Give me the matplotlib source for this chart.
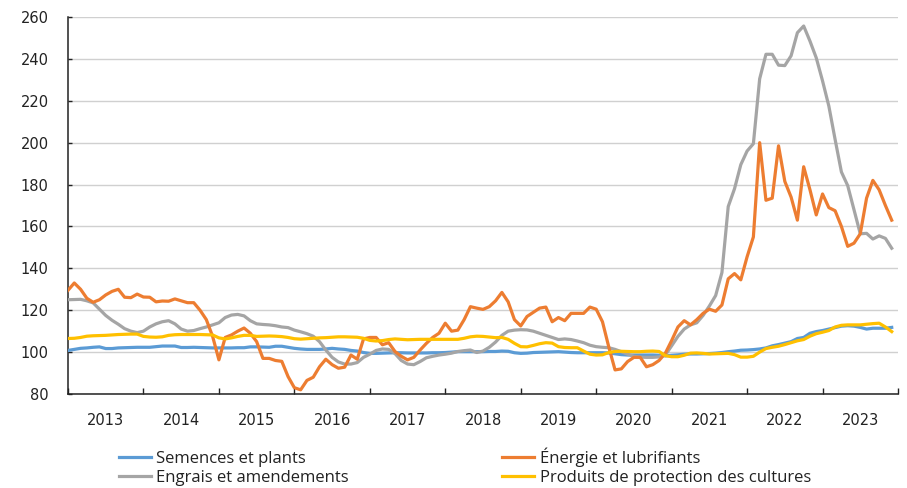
import numpy as np
import matplotlib
matplotlib.use("Agg")
import matplotlib.pyplot as plt
from matplotlib.lines import Line2D

plt.rcParams['font.family'] = ['DejaVu Sans']

years = ['2013', '2014', '2015', '2016', '2017', '2018', '2019', '2020', '2021', '2022', '2023']

# Monthly indices, Jan 2013 .. Dec 2023 (one row per year)
semences = [
    100.8, 101.3, 101.8, 102.0, 102.3, 102.5, 101.7, 101.7, 102.0, 102.1, 102.2, 102.3,
    102.3, 102.3, 102.6, 102.9, 102.9, 102.9, 102.2, 102.2, 102.3, 102.2, 102.1, 102.0,
    102.0, 102.0, 102.0, 102.1, 102.1, 102.5, 102.5, 102.4, 102.3, 102.8, 102.8, 102.3,
    101.8, 101.5, 101.3, 101.3, 101.3, 101.5, 101.8, 101.5, 101.3, 100.8, 100.5, 99.8,
    99.4, 99.4, 99.5, 99.6, 99.7, 99.7, 99.6, 99.6, 99.6, 99.6, 99.7, 99.7,
    99.8, 100.0, 100.2, 100.2, 100.2, 100.2, 100.2, 100.3, 100.3, 100.5, 100.4, 99.7,
    99.4, 99.5, 99.8, 99.9, 100.0, 100.1, 100.2, 100.0, 99.8, 99.7, 99.7, 99.7,
    99.7, 99.7, 99.6, 99.2, 98.8, 98.6, 98.6, 98.6, 98.6, 98.6, 98.5, 98.2,
    98.5, 98.7, 99.0, 99.1, 99.1, 99.2, 99.3, 99.5, 99.8, 100.2, 100.5, 100.9,
    101.0, 101.2, 101.5, 102.0, 103.0, 103.6, 104.3, 105.0, 106.5, 107.0, 109.0, 109.8,
    110.3, 111.0, 111.7, 112.4, 112.6, 112.4, 111.8, 111.0, 111.4, 111.4, 111.4, 111.8,
]

energie = [
    129.5, 133.0, 130.0, 125.7, 123.8, 125.0, 127.3, 129.0, 130.0, 126.2, 126.0, 127.7,
    126.3, 126.2, 124.0, 124.4, 124.3, 125.4, 124.5, 123.6, 123.6, 120.0, 115.5, 107.5,
    96.3, 107.0, 108.2, 110.0, 111.5, 109.0, 105.0, 97.0, 97.0, 96.0, 95.6, 88.3,
    83.0, 82.0, 86.5, 88.0, 93.0, 96.6, 94.0, 92.3, 92.8, 98.6, 96.6, 106.3,
    107.0, 107.0, 103.5, 104.5, 100.3, 98.0, 96.3, 97.5, 101.0, 104.2, 107.0, 109.0,
    113.8, 110.0, 110.5, 115.5, 121.7, 121.0, 120.4, 121.7, 124.5, 128.5, 124.0, 115.5,
    112.5, 117.0, 119.0, 121.0, 121.5, 114.5, 116.5, 115.0, 118.5, 118.5, 118.5, 121.5,
    120.5, 114.5, 102.5, 91.5, 92.0, 95.5, 97.5, 97.5, 93.0, 94.0, 96.0, 99.5,
    105.5, 112.0, 115.0, 113.0, 115.5, 118.5, 120.5, 119.5, 122.5, 135.0, 137.5, 134.5,
    145.5, 155.0, 200.0, 172.5, 173.5, 198.5, 181.5, 174.0, 163.0, 188.5, 177.5, 165.5,
    175.5, 169.0, 167.5, 160.0, 150.5, 152.0, 156.5, 173.5, 182.0, 177.5, 170.0, 163.0,
]

engrais = [
    125.0, 125.1, 125.2, 124.5, 123.5, 120.5, 117.5, 115.2, 113.3, 111.2, 110.0, 109.3,
    110.0, 112.0, 113.5, 114.5, 115.0, 113.5, 111.0, 110.0, 110.3, 111.2, 112.0, 113.0,
    114.0, 116.5, 117.7, 118.0, 117.3, 115.0, 113.5, 113.2, 113.0, 112.6, 112.0, 111.7,
    110.5, 109.7, 108.8, 107.6, 105.0, 101.0, 97.5, 95.3, 94.3, 94.3, 95.0, 97.5,
    99.0, 100.8, 101.5, 101.3, 99.3, 96.0, 94.3, 94.0, 95.5, 97.3, 98.0, 98.6,
    99.0, 99.5, 100.3, 100.7, 101.0, 99.8, 100.5, 102.3, 104.8, 108.0, 110.0, 110.5,
    110.7, 110.6, 110.0, 109.0, 108.0, 107.0, 106.0, 106.3, 106.0, 105.3, 104.5, 103.3,
    102.6, 102.3, 102.1, 101.3, 100.2, 99.0, 98.0, 97.6, 97.5, 97.5, 97.7, 98.6,
    103.0, 107.5, 111.0, 113.0, 114.0, 117.5, 122.0, 127.0, 138.0, 169.5, 178.0, 189.5,
    196.0, 199.5, 230.5, 242.2, 242.2, 237.0, 236.8, 241.5, 252.5, 255.7, 248.5, 240.5,
    229.5, 217.5, 201.5, 186.0, 179.5, 168.0, 156.5, 156.7, 154.0, 155.5, 154.3, 149.6,
]

protection = [
    106.5, 106.6, 107.0, 107.6, 107.8, 107.9, 108.0, 108.2, 108.4, 108.5, 108.6, 108.6,
    107.5, 107.2, 107.1, 107.3, 108.0, 108.3, 108.4, 108.4, 108.4, 108.4, 108.3, 108.2,
    106.8, 106.3, 106.8, 107.5, 108.0, 108.0, 107.5, 107.6, 107.7, 107.6, 107.4, 107.0,
    106.4, 106.2, 106.4, 106.6, 106.8, 106.9, 107.1, 107.3, 107.3, 107.2, 107.1, 106.6,
    105.6, 105.3, 105.5, 106.0, 106.3, 106.1, 105.9, 106.0, 106.1, 106.1, 106.1, 106.1,
    106.1, 106.1, 106.1, 106.6, 107.3, 107.6, 107.5, 107.2, 106.9, 107.0, 106.1, 104.2,
    102.6, 102.5, 103.2, 104.0, 104.5, 104.3, 102.6, 102.2, 102.1, 102.1, 100.5, 99.0,
    98.6, 98.7, 99.8, 100.3, 100.4, 100.3, 100.2, 100.2, 100.4, 100.5, 100.3, 98.3,
    97.8, 97.8, 98.5, 99.5, 99.6, 99.4, 99.1, 99.2, 99.3, 99.4, 98.8, 97.6,
    97.6, 98.0, 100.0, 101.7, 102.3, 102.8, 103.6, 104.5, 105.4, 106.0, 107.6, 108.8,
    109.5, 110.3, 112.0, 112.8, 113.0, 113.0, 113.0, 113.3, 113.6, 113.8, 112.0, 109.8,
]

series_labels = ['Semences et plants', 'Énergie et lubrifiants',
                 'Engrais et amendements', 'Produits de protection des cultures']
colors = ['#5B9BD5', '#ED7D31', '#A5A5A5', '#FFC000']

W, H = 907, 488
fig = plt.figure(figsize=(W / 100, H / 100), dpi=100)
ax = fig.add_axes([68 / W, 1 - 394 / H, (898 - 68) / W, (394 - 17) / H])

x = np.arange(len(semences))
lw = 2.3
ax.plot(x, semences, color=colors[0], lw=lw, solid_joinstyle='round', zorder=3)
ax.plot(x, engrais, color=colors[2], lw=lw, solid_joinstyle='round', zorder=3)
ax.plot(x, energie, color=colors[1], lw=lw, solid_joinstyle='round', zorder=4)
ax.plot(x, protection, color=colors[3], lw=lw, solid_joinstyle='round', zorder=5)

ax.set_xlim(0, 12 * len(years))
ax.set_ylim(80, 260)
ax.set_yticks(np.arange(80, 261, 20))
ax.yaxis.grid(True, color='#D0D0D0', lw=1.0)
ax.set_axisbelow(True)

ax.set_xticks(np.arange(0, 12 * len(years) + 1, 12))
ax.set_xticklabels([])
ax.set_xticks(np.arange(6, 12 * len(years), 12), minor=True)
ax.set_xticklabels(years, minor=True)
ax.tick_params(axis='x', which='major', direction='in', length=4.5, width=1.0, color='#222222')
ax.tick_params(axis='x', which='minor', length=0, pad=14, labelsize=10.5, labelcolor='#222222')
ax.tick_params(axis='y', direction='in', length=3, width=1.0, color='#222222',
               pad=14, labelsize=10.5, labelcolor='#222222')

for s in ['top', 'right']:
    ax.spines[s].set_visible(False)
for s in ['left', 'bottom']:
    ax.spines[s].set_color('#222222')
    ax.spines[s].set_linewidth(1.1)

legend_pos = [(119, 459), (502, 457), (119, 478), (502, 478)]
legend_order = [0, 1, 2, 3]
for idx, (px, py) in zip(legend_order, legend_pos):
    h = Line2D([0], [0], color=colors[idx], lw=2.3)
    leg = fig.legend([h], [series_labels[idx]], loc='center left',
                     bbox_to_anchor=(px / W, 1 - py / H), frameon=False,
                     prop={'family': 'Open Sans', 'size': 12},
                     handlelength=1.9, handletextpad=0.35, borderpad=0,
                     borderaxespad=0, labelcolor='#222222')

fig.savefig('out.png', dpi=100)
